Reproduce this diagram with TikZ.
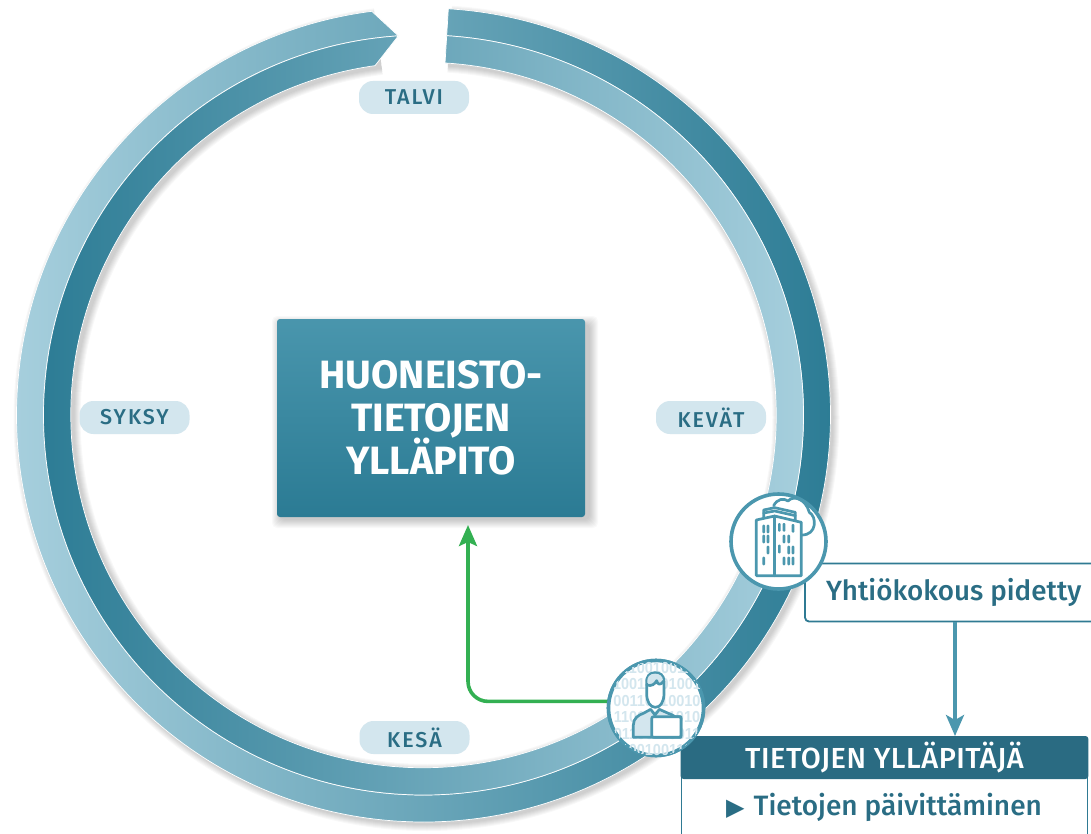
\documentclass[tikz,border=0pt]{standalone}
\usepackage{fontspec}
\setmainfont{Fira Sans}
\newfontfamily\medfont{Fira Sans Medium}
\newfontfamily\symfont{DejaVu Sans}
\newfontfamily\digfont{Liberation Sans}
\usetikzlibrary{arrows.meta,calc}
\definecolor{ringdark}{HTML}{2B7B94}
\definecolor{ringlight}{HTML}{A8D0DE}
\definecolor{pillfill}{HTML}{D3E6EE}
\definecolor{inktext}{HTML}{2A6D84}
\definecolor{headfill}{HTML}{2A6B82}
\definecolor{iconline}{HTML}{4B97AE}
\definecolor{boxline}{HTML}{2F7A93}
\definecolor{greenline}{HTML}{33B052}
\tikzset{
  x=1pt,y=1pt,
  pill/.style={fill=pillfill,rounded corners=14pt,minimum width=110pt,minimum height=33pt,inner sep=0pt,text=inktext,
    font=\fontsize{21.5}{21.5}\medfont\addfontfeatures{LetterSpace=9}},
  iconcircle/.style={circle,draw=iconline,line width=3.6pt,fill=white,minimum size=95pt,inner sep=0pt,outer sep=0pt},
  iconstroke/.style={draw=iconline,line width=2.7pt,line join=round,line cap=round},
  window/.style={fill=iconline},
  digit/.style={text=pillfill,inner sep=0pt,yscale=1.1,font=\fontsize{14.5}{14.5}\digfont\bfseries},
}
\begin{document}
\begin{tikzpicture}
\useasboundingbox (0,0) rectangle (1091,-834);
\fill[white] (0,0) rectangle (1091,-834);
\coordinate (c) at (423.5,-415);
% ring shadow
\foreach \w in {55,57,59,61,63,65,67}{
  \draw[black,opacity=.028,line width=\w pt] ($(c)+(3,-3)$) ++(86.5:379.5) arc[start angle=86.5,end angle=-262.7,radius=379.5];
}
% outer band
\draw[draw=white,line width=.7pt,left color=ringlight,right color=ringdark]
  ($(c)+(86.5:407)$) arc[start angle=86.5,end angle=-262.7,radius=407]
  -- ($(c)+(93.8:380)$) arc[start angle=-266.2,end angle=86.5,radius=380] -- cycle;
% inner band
\draw[draw=white,line width=.7pt,left color=ringdark,right color=ringlight]
  ($(c)+(86.5:380)$) arc[start angle=86.5,end angle=-266.2,radius=380]
  -- ($(c)+(97.9:352.7)$) arc[start angle=-262.1,end angle=86.5,radius=352.7] -- cycle;
% season pills
\node[pill] (talvi) at (414,-97.5) {TALVI};
\node[pill] (syksy) at (134.5,-417.5) {SYKSY};
\node[pill] (kevat) at (711,-417.5) {KEVÄT};
\node[pill] (kesa)  at (414.5,-737.5) {KESÄ};
% centre box shadow
\foreach \d in {0,1,2,3,4,5,6,7,8}{
  \fill[black,opacity=.024,rounded corners=5pt] (280-\d,-324+\d) rectangle (590+\d,-520-\d);
}
\node[minimum width=308pt,minimum height=198pt,inner sep=0pt,outer sep=0pt,rounded corners=3pt,top color=iconline!95!ringdark,bottom color=ringdark,text=white,align=center,
  font=\fontsize{39.5}{43.3}\bfseries\selectfont] (main) at (431,-418) {HUONEISTO-\\TIETOJEN\\YLLÄPITO};
% Yhtiokokous box
\node[minimum width=287pt,minimum height=59pt,inner sep=0pt,outer sep=0pt,fill=white] (yht) at (947.5,-592.5) {};
\draw[boxline,line width=1.8pt,rounded corners=4pt] (1091,-563.5) -- (805,-563.5) -- (805,-621.5) -- (1091,-621.5);
\node[text=inktext,inner sep=0pt,anchor=base west,font=\fontsize{27.8}{27.8}\medfont] (yhtt) at (826,-600) {Yhtiökokous pidetty};
% admin box
\coordinate (admL) at (681.5,-834);
\coordinate (admR) at (1087.5,-834);
\draw[boxline,line width=1.8pt,fill=white] (admL) -- (681.5,-770) -- (1087.5,-770) -- (admR);
\fill[headfill,rounded corners=3pt] (680.6,-779) -- (680.6,-736) -- (1088.4,-736) -- (1088.4,-779) -- cycle;
\node[inner sep=0pt,outer sep=0pt,minimum width=407pt,minimum height=43pt,text=white,font=\fontsize{29}{29}\medfont\addfontfeatures{LetterSpace=1.8}] (adm) at (884.5,-757.5) {TIETOJEN YLLÄPITÄJÄ};
\node[text=inktext,inner sep=0pt,anchor=base west,font=\fontsize{28}{28}\medfont] (admt) at (726,-815) {{\symfont\fontsize{24}{24}\selectfont ▶}\hspace{9pt}Tietojen päivittäminen};
% connector
\draw[-{Stealth[length=21pt,width=18pt,inset=5pt]},iconline,line width=3.6pt] (yht.south -| 955,0) -- (adm.north -| 955,0) ;
% circles and green arrow
\node[iconcircle] (person) at (656,-708) {};
\node[iconcircle] (bldg) at (778.5,-541.5) {};
\coordinate (gtip) at (468,-525);
\draw[-{Stealth[length=21pt,width=18pt,inset=4pt]},greenline,line width=3.6pt,rounded corners=20pt] (person.172.7) -| (gtip);
\node[iconcircle] at (person) {};
% person icon
\begin{scope}
\clip (person) circle (47.5pt);
\foreach \yy/\s in {-668/01100100110,-684.4/10011001001,-700.8/00110110010,-717.2/11011011010,-733.6/01100110011,-750/11001001101}{
  \node[digit] at (657,\yy) {\s};
}
\end{scope}
\begin{scope}[shift={(600,-650)},x=.3333pt,y=-.3333pt]
 \draw[iconstroke,fill=pillfill] (100,262) -- (100,225) .. controls (100,205) and (115,195) .. (130,190) -- (152,178) -- (165,195) -- (178,178) -- (205,190) .. controls (215,193) and (220,197) .. (225,200) -- (243,200) -- (243,262) -- cycle;
 \draw[iconstroke,fill=white,rounded corners=2pt] (155,200) rectangle (243,262);
 \draw[iconstroke,fill=white] (140,100) -- (140,130) .. controls (140,155) and (150,172) .. (166,172) .. controls (182,172) and (192,155) .. (192,130) -- (192,95) .. controls (192,75) and (180,68) .. (165,68) .. controls (150,68) and (138,78) .. (140,100) -- cycle;
 \fill[pillfill] (142,98) .. controls (140,80) and (150,71) .. (165,71) .. controls (178,71) and (189,78) .. (189,92) .. controls (180,104) and (172,100) .. (170,94) .. controls (162,106) and (150,108) .. (142,98) -- cycle;
 \draw[iconstroke] (140,105) .. controls (155,110) and (165,102) .. (170,92) .. controls (172,104) and (182,108) .. (192,92);
\end{scope}
% building icon
\begin{scope}[shift={(722,-485)},x=.3333pt,y=-.3333pt]
 \draw[iconstroke] (155,62) .. controls (165,42) and (185,38) .. (198,48) .. controls (215,30) and (250,40) .. (262,82) .. controls (285,95) and (285,150) .. (240,150);
 \draw[iconstroke] (125,100) -- (125,75) -- (158,68) -- (220,82) -- (220,108);
 \draw[iconstroke] (125,84) -- (158,78) -- (220,92);
 \draw[iconstroke,fill=white] (103,272) -- (103,105) -- (158,93) -- (238,112) -- (238,272) -- cycle;
 \draw[iconstroke] (158,93) -- (158,272);
 \foreach \wx/\wy in {125/132,138/132,125/162,138/162,138/195,125/228,172/127,186/127,213/130,186/162,200/162,172/192,200/195,213/195,186/228,200/228,213/228}{
   \fill[window,rounded corners=1pt] ({\wx-4},{\wy-13}) rectangle ({\wx+4},{\wy+13});
 }
\end{scope}
\end{tikzpicture}
\end{document}
